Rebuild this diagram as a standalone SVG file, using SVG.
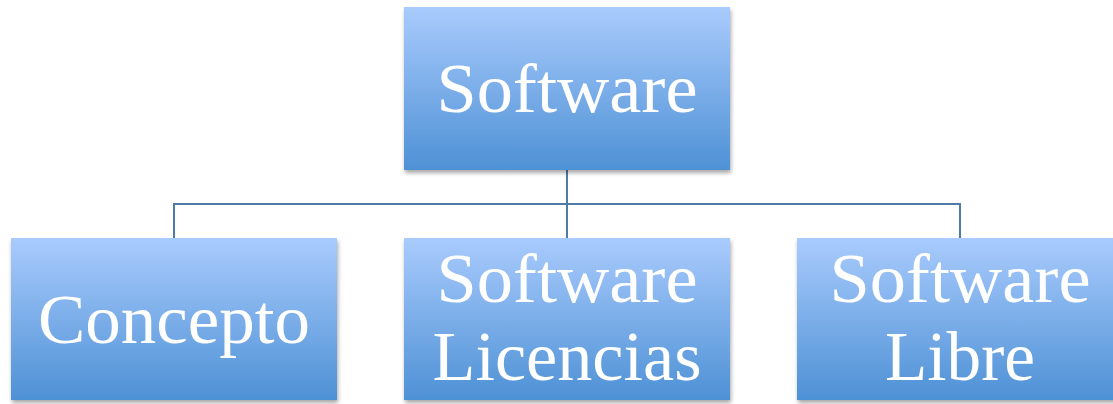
<svg xmlns="http://www.w3.org/2000/svg" width="1113" height="404" viewBox="0 0 1113 404">
<defs>
<linearGradient id="g" x1="0" y1="0" x2="0" y2="1">
<stop offset="0" stop-color="#a9cbfd"/>
<stop offset="1" stop-color="#4e91d5"/>
</linearGradient>
<filter id="sh" x="-5%" y="-5%" width="115%" height="120%">
<feGaussianBlur in="SourceAlpha" stdDeviation="2"/>
<feOffset dx="1" dy="3" result="b"/>
<feComponentTransfer><feFuncA type="linear" slope="0.35"/></feComponentTransfer>
<feMerge><feMergeNode/><feMergeNode in="SourceGraphic"/></feMerge>
</filter>
</defs>
<style>
.box{fill:url(#g);filter:url(#sh);}
.t{font-family:"Liberation Serif","DejaVu Serif",serif;font-size:70px;fill:#ffffff;text-anchor:middle;}
.c{stroke:#4f7ba9;stroke-width:2;fill:none;}
</style>
<rect width="1113" height="404" fill="#ffffff"/>
<g id="connectors">
<path class="c" d="M567 170 V238"/>
<path class="c" d="M174 238 V204 H960 V238"/>
</g>
<g id="software">
<rect class="box" x="404" y="7" width="326" height="163"/>
<text class="t" x="567" y="112" textLength="261" lengthAdjust="spacingAndGlyphs">Software</text>
</g>
<g id="concepto">
<rect class="box" x="11" y="238" width="326" height="162"/>
<text class="t" x="174" y="343" textLength="272" lengthAdjust="spacingAndGlyphs">Concepto</text>
</g>
<g id="licencias">
<rect class="box" x="404" y="238" width="326" height="162"/>
<text class="t" x="567" y="302" textLength="261" lengthAdjust="spacingAndGlyphs">Software</text>
<text class="t" x="567" y="380" textLength="269" lengthAdjust="spacingAndGlyphs">Licencias</text>
</g>
<g id="libre">
<rect class="box" x="797" y="238" width="326" height="162"/>
<text class="t" x="960" y="302" textLength="261" lengthAdjust="spacingAndGlyphs">Software</text>
<text class="t" x="960" y="380" textLength="150" lengthAdjust="spacingAndGlyphs">Libre</text>
</g>
</svg>
